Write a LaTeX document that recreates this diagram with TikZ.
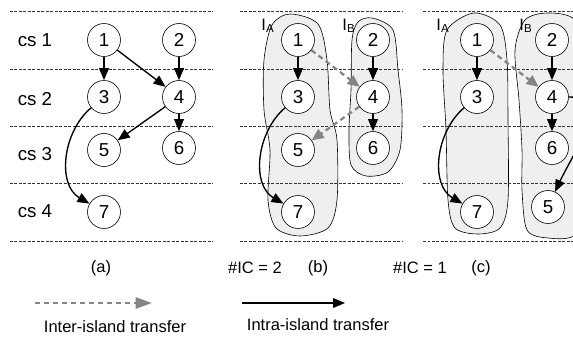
\documentclass[tikz,border=0pt]{standalone}
\usepackage{fontspec}
\setmainfont{Liberation Sans}
\usetikzlibrary{arrows.meta}
\definecolor{islandgray}{HTML}{EFEFEF}
\definecolor{intergray}{HTML}{858585}

\tikzset{
  task/.style={circle, draw, thin, fill=white, minimum size=22pt, inner sep=0pt, font=\fontsize{12.5}{14}\selectfont},
  cslabel/.style={font=\fontsize{12.5}{14}\selectfont},
  intra/.style={line width=0.9pt, -{Triangle[length=8pt,width=6.5pt]}},
  inter/.style={intergray, line width=1.5pt, dash pattern=on 3.5pt off 2.5pt, -{Triangle[length=8pt,width=7pt]}},
  island/.style={draw, thin, fill=islandgray},
  csline/.style={black!80, thin, dash pattern=on 2pt off 1pt},
}

\begin{document}
\begin{tikzpicture}[x=0.667pt, y=0.667pt, font=\fontsize{11}{13}\selectfont]
\clip (0,0) rectangle (573,-337);

% islands
\draw[island] plot[smooth cycle] coordinates {(290,-14) (318,-24) (327,-60) (330,-110) (337,-140) (337,-200) (328,-228) (300,-236) (276,-228) (268,-200) (270,-150) (264,-110) (264,-60) (272,-25)};
\draw[island] plot[smooth cycle] coordinates {(372,-18) (393,-30) (398,-70) (402,-110) (400,-150) (388,-172) (366,-176) (351,-165) (349,-130) (351,-90) (352,-40) (358,-22)};
\draw[island] plot[smooth cycle] coordinates {(474,-13) (500,-25) (507,-60) (508,-120) (508,-200) (500,-228) (478,-234) (455,-228) (448,-200) (446,-130) (443,-70) (447,-30)};
\draw[island] plot[smooth cycle] coordinates {(548,-13) (575,-20) (590,-60) (590,-200) (575,-235) (548,-238) (527,-230) (522,-190) (522,-150) (519,-100) (515,-50) (525,-20)};

\foreach \y in {11,69,126,183,241} {
  \draw[csline] (10,-\y) -- (213,-\y);
  \draw[csline] (240,-\y) -- (402,-\y);
  \draw[csline] (423,-\y) -- (573,-\y);
}

\node[cslabel] (cs1) at (35,-40) {cs 1};
\node[cslabel] (cs2) at (35,-99) {cs 2};
\node[cslabel] (cs3) at (35,-154) {cs 3};
\node[cslabel] (cs4) at (35,-211) {cs 4};

\node (iab) at (268,-26) {I\textsubscript{A}};
\node (ibb) at (349,-26) {I\textsubscript{B}};
\node (iac) at (443,-26) {I\textsubscript{A}};
\node (ibc) at (526,-26) {I\textsubscript{B}};

% (a)
\node[task] (a1) at (104,-40) {1};
\node[task] (a2) at (179,-40) {2};
\node[task] (a3) at (104,-97) {3};
\node[task] (a4) at (179,-97) {4};
\node[task] (a5) at (104,-150) {5};
\node[task] (a6) at (179,-148) {6};
\node[task] (a7) at (104,-212) {7};

\draw[intra] (a1) -- (a3);
\draw[intra] (a1) -- (a4);
\draw[intra] (a2) -- (a4);
\draw[intra] (a4) -- (a6);
\draw[intra] (a4) -- (a5);
\draw[intra] (a3) to[out=220, in=150] (a7);

% (b)
\node[task] (b1) at (298,-40) {1};
\node[task] (b2) at (373,-40) {2};
\node[task] (b3) at (298,-97) {3};
\node[task] (b4) at (373,-97) {4};
\node[task] (b5) at (298,-150) {5};
\node[task] (b6) at (373,-148) {6};
\node[task] (b7) at (298,-212) {7};

\draw[intra] (b1) -- (b3);
\draw[intra] (b2) -- (b4);
\draw[intra] (b4) -- (b6);
\draw[intra] (b3) to[out=220, in=150] (b7);
\draw[inter] (b1) -- (b4);
\draw[inter] (b4) -- (b5);

% (c)
\node[task] (c1) at (477,-40) {1};
\node[task] (c2) at (552,-40) {2};
\node[task] (c3) at (477,-97) {3};
\node[task] (c4) at (552,-97) {4};
\node[task] (c6) at (552,-148) {6};
\node[task] (c7) at (477,-212) {7};
\node[task] (c5) at (548,-207) {5};

\draw[intra] (c1) -- (c3);
\draw[intra] (c2) -- (c4);
\draw[intra] (c4) -- (c6);
\draw[intra] (c3) to[out=220, in=150] (c7);
\draw[intra] (c4) to[out=0, in=65, looseness=1.2] (c5);
\draw[inter] (c1) -- (c4);

\node (capa) at (101,-268) {(a)};
\node (icb) at (255,-268) {\#IC = 2};
\node (capb) at (318,-268) {(b)};
\node (icc) at (420,-268) {\#IC = 1};
\node (capc) at (481,-268) {(c)};

% legend
\coordinate (inters) at (35,-303);
\coordinate (intere) at (152,-303);
\coordinate (intras) at (242,-303);
\coordinate (intrae) at (345,-303);
\draw[inter, -{Triangle[length=11pt,width=7.5pt]}] (inters) -- (intere);
\draw[intra] (intras) -- (intrae);
\node (interlbl) at (115,-327) {Inter-island transfer};
\node (intralbl) at (318,-325) {Intra-island transfer};

\end{tikzpicture}
\end{document}
